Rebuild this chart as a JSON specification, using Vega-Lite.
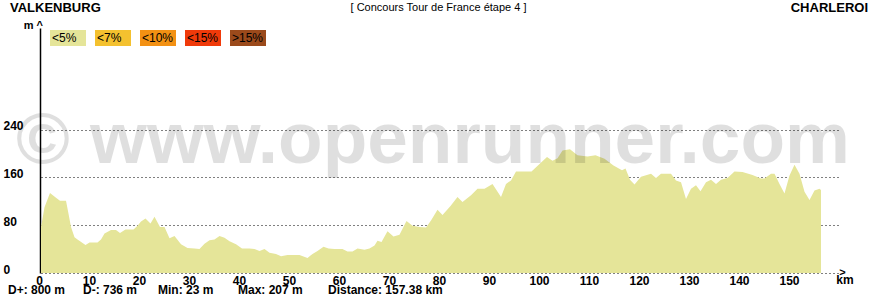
{
  "$schema": "https://vega.github.io/schema/vega-lite/v6.json",
  "width": 800,
  "height": 245,
  "autosize": {"type": "none"},
  "padding": {"left": 41, "top": 28, "right": 39, "bottom": 27},
  "background": "white",
  "config": {
    "view": {"stroke": null},
    "font": "Liberation Sans",
    "text": {"font": "Liberation Sans"}
  },
  "datasets": {
    "profile": [
      {"km": 0.0, "m": 78, "slope": "<5%"},
      {"km": 0.2, "m": 86, "slope": "<5%"},
      {"km": 0.7, "m": 110, "slope": "<5%"},
      {"km": 1.8, "m": 134, "slope": "<5%"},
      {"km": 3.0, "m": 126, "slope": "<5%"},
      {"km": 3.8, "m": 121, "slope": "<5%"},
      {"km": 5.0, "m": 121, "slope": "<5%"},
      {"km": 5.5, "m": 99, "slope": "<5%"},
      {"km": 6.0, "m": 77, "slope": "<5%"},
      {"km": 6.7, "m": 60, "slope": "<5%"},
      {"km": 7.3, "m": 56, "slope": "<5%"},
      {"km": 8.9, "m": 47, "slope": "<5%"},
      {"km": 9.7, "m": 51, "slope": "<5%"},
      {"km": 11.3, "m": 51, "slope": "<5%"},
      {"km": 12.0, "m": 56, "slope": "<5%"},
      {"km": 12.7, "m": 66, "slope": "<5%"},
      {"km": 14.0, "m": 72, "slope": "<5%"},
      {"km": 15.0, "m": 72, "slope": "<5%"},
      {"km": 15.8, "m": 67, "slope": "<5%"},
      {"km": 16.9, "m": 73, "slope": "<5%"},
      {"km": 18.5, "m": 73, "slope": "<5%"},
      {"km": 19.3, "m": 79, "slope": "<5%"},
      {"km": 20.0, "m": 86, "slope": "<5%"},
      {"km": 20.9, "m": 91, "slope": "<5%"},
      {"km": 21.9, "m": 83, "slope": "<5%"},
      {"km": 22.7, "m": 94, "slope": "<5%"},
      {"km": 23.8, "m": 77, "slope": "<5%"},
      {"km": 24.7, "m": 77, "slope": "<5%"},
      {"km": 25.7, "m": 58, "slope": "<5%"},
      {"km": 26.7, "m": 62, "slope": "<5%"},
      {"km": 28.0, "m": 48, "slope": "<5%"},
      {"km": 29.3, "m": 42, "slope": "<5%"},
      {"km": 30.7, "m": 41, "slope": "<5%"},
      {"km": 31.7, "m": 40, "slope": "<5%"},
      {"km": 32.7, "m": 49, "slope": "<5%"},
      {"km": 33.7, "m": 55, "slope": "<5%"},
      {"km": 34.7, "m": 56, "slope": "<5%"},
      {"km": 35.7, "m": 62, "slope": "<5%"},
      {"km": 36.7, "m": 59, "slope": "<5%"},
      {"km": 37.7, "m": 53, "slope": "<5%"},
      {"km": 39.0, "m": 48, "slope": "<5%"},
      {"km": 40.2, "m": 41, "slope": "<5%"},
      {"km": 41.7, "m": 41, "slope": "<5%"},
      {"km": 42.7, "m": 40, "slope": "<5%"},
      {"km": 43.7, "m": 37, "slope": "<5%"},
      {"km": 44.7, "m": 40, "slope": "<5%"},
      {"km": 45.7, "m": 34, "slope": "<5%"},
      {"km": 47.0, "m": 32, "slope": "<5%"},
      {"km": 48.0, "m": 28, "slope": "<5%"},
      {"km": 49.3, "m": 30, "slope": "<5%"},
      {"km": 51.7, "m": 30, "slope": "<5%"},
      {"km": 53.3, "m": 25, "slope": "<5%"},
      {"km": 54.3, "m": 32, "slope": "<5%"},
      {"km": 55.3, "m": 37, "slope": "<5%"},
      {"km": 56.5, "m": 44, "slope": "<5%"},
      {"km": 57.5, "m": 41, "slope": "<5%"},
      {"km": 58.7, "m": 40, "slope": "<5%"},
      {"km": 60.3, "m": 40, "slope": "<5%"},
      {"km": 61.3, "m": 36, "slope": "<5%"},
      {"km": 62.3, "m": 36, "slope": "<5%"},
      {"km": 63.3, "m": 41, "slope": "<5%"},
      {"km": 64.7, "m": 39, "slope": "<5%"},
      {"km": 65.7, "m": 41, "slope": "<5%"},
      {"km": 66.7, "m": 46, "slope": "<5%"},
      {"km": 67.3, "m": 54, "slope": "<5%"},
      {"km": 68.1, "m": 52, "slope": "<5%"},
      {"km": 69.3, "m": 70, "slope": "<5%"},
      {"km": 70.5, "m": 61, "slope": "<5%"},
      {"km": 71.7, "m": 64, "slope": "<5%"},
      {"km": 73.1, "m": 87, "slope": "<5%"},
      {"km": 74.3, "m": 79, "slope": "<5%"},
      {"km": 75.7, "m": 77, "slope": "<5%"},
      {"km": 77.0, "m": 76, "slope": "<5%"},
      {"km": 78.0, "m": 88, "slope": "<5%"},
      {"km": 79.3, "m": 106, "slope": "<5%"},
      {"km": 80.3, "m": 97, "slope": "<5%"},
      {"km": 81.9, "m": 112, "slope": "<5%"},
      {"km": 83.3, "m": 127, "slope": "<5%"},
      {"km": 84.3, "m": 119, "slope": "<5%"},
      {"km": 86.0, "m": 130, "slope": "<5%"},
      {"km": 87.3, "m": 141, "slope": "<5%"},
      {"km": 88.7, "m": 141, "slope": "<5%"},
      {"km": 90.3, "m": 149, "slope": "<5%"},
      {"km": 92.0, "m": 127, "slope": "<5%"},
      {"km": 93.0, "m": 149, "slope": "<5%"},
      {"km": 94.0, "m": 155, "slope": "<5%"},
      {"km": 95.0, "m": 170, "slope": "<5%"},
      {"km": 98.1, "m": 170, "slope": "<5%"},
      {"km": 101.2, "m": 194, "slope": "<5%"},
      {"km": 102.3, "m": 188, "slope": "<5%"},
      {"km": 103.3, "m": 192, "slope": "<5%"},
      {"km": 104.3, "m": 205, "slope": "<5%"},
      {"km": 105.8, "m": 207, "slope": "<5%"},
      {"km": 107.3, "m": 197, "slope": "<5%"},
      {"km": 109.3, "m": 195, "slope": "<5%"},
      {"km": 110.9, "m": 197, "slope": "<5%"},
      {"km": 112.7, "m": 191, "slope": "<5%"},
      {"km": 114.5, "m": 180, "slope": "<5%"},
      {"km": 116.2, "m": 172, "slope": "<5%"},
      {"km": 116.9, "m": 175, "slope": "<5%"},
      {"km": 117.8, "m": 156, "slope": "<5%"},
      {"km": 118.7, "m": 148, "slope": "<5%"},
      {"km": 120.0, "m": 161, "slope": "<5%"},
      {"km": 122.0, "m": 166, "slope": "<5%"},
      {"km": 123.0, "m": 159, "slope": "<5%"},
      {"km": 124.0, "m": 166, "slope": "<5%"},
      {"km": 126.0, "m": 166, "slope": "<5%"},
      {"km": 127.0, "m": 155, "slope": "<5%"},
      {"km": 128.0, "m": 152, "slope": "<5%"},
      {"km": 129.0, "m": 124, "slope": "<5%"},
      {"km": 130.0, "m": 141, "slope": "<5%"},
      {"km": 131.0, "m": 147, "slope": "<5%"},
      {"km": 131.9, "m": 137, "slope": "<5%"},
      {"km": 133.0, "m": 152, "slope": "<5%"},
      {"km": 134.0, "m": 156, "slope": "<5%"},
      {"km": 135.0, "m": 149, "slope": "<5%"},
      {"km": 136.0, "m": 156, "slope": "<5%"},
      {"km": 137.3, "m": 159, "slope": "<5%"},
      {"km": 138.7, "m": 170, "slope": "<5%"},
      {"km": 140.3, "m": 169, "slope": "<5%"},
      {"km": 142.3, "m": 164, "slope": "<5%"},
      {"km": 144.0, "m": 158, "slope": "<5%"},
      {"km": 144.7, "m": 158, "slope": "<5%"},
      {"km": 146.0, "m": 166, "slope": "<5%"},
      {"km": 146.7, "m": 166, "slope": "<5%"},
      {"km": 147.7, "m": 149, "slope": "<5%"},
      {"km": 148.7, "m": 133, "slope": "<5%"},
      {"km": 149.7, "m": 163, "slope": "<5%"},
      {"km": 150.7, "m": 181, "slope": "<5%"},
      {"km": 151.7, "m": 166, "slope": "<5%"},
      {"km": 152.7, "m": 136, "slope": "<5%"},
      {"km": 153.7, "m": 122, "slope": "<5%"},
      {"km": 154.7, "m": 138, "slope": "<5%"},
      {"km": 155.7, "m": 141, "slope": "<5%"},
      {"km": 156.0, "m": 139, "slope": "<5%"}
    ],
    "info": [
      {
        "start": "VALKENBURG",
        "end": "CHARLEROI",
        "title": "[ Concours Tour de France étape 4 ]",
        "watermark": "© www.openrunner.com",
        "yunit": "m ^",
        "xunit": "km",
        "arrow": ">",
        "dplus": "D+: 800 m",
        "dminus": "D-: 736 m",
        "min": "Min: 23 m",
        "max": "Max: 207 m",
        "dist": "Distance: 157.38 km"
      }
    ]
  },
  "layer": [
    {
      "data": {"name": "profile"},
      "mark": {"type": "area", "interpolate": "linear", "opacity": 1},
      "encoding": {
        "x": {
          "field": "km",
          "type": "quantitative",
          "scale": {"domain": [0, 160], "nice": false, "zero": false},
          "axis": {
            "values": [0, 10, 20, 30, 40, 50, 60, 70, 80, 90, 100, 110, 120, 130, 140, 150],
            "grid": false,
            "domain": false,
            "ticks": false,
            "tickSize": 0,
            "labelPadding": 2,
            "labelOffset": -2,
            "labelFont": "Liberation Sans",
            "labelFontSize": 12,
            "labelFontWeight": "bold",
            "labelColor": "black",
            "labelFlush": false,
            "labelOverlap": false,
            "title": null
          }
        },
        "y": {
          "field": "m",
          "type": "quantitative",
          "scale": {"domain": [0, 410], "nice": false},
          "axis": {
            "values": [0, 80, 160, 240],
            "grid": true,
            "gridColor": "black",
            "gridDash": [1, 3],
            "gridWidth": 1,
            "gridOpacity": 1,
            "domain": true,
            "domainColor": "black",
            "domainWidth": 1.5,
            "offset": 1,
            "ticks": false,
            "tickSize": 0,
            "labelAlign": "left",
            "labelBaseline": "alphabetic",
            "labelPadding": 37,
            "labelFont": "Liberation Sans",
            "labelFontSize": 12,
            "labelFontWeight": "bold",
            "labelColor": "black",
            "title": null
          }
        },
        "color": {
          "field": "slope",
          "type": "nominal",
          "scale": {
            "domain": ["<5%", "<7%", "<10%", "<15%", ">15%"],
            "range": ["#e5e599", "#f4c12f", "#f39113", "#f03a0a", "#9b4a1b"]
          },
          "legend": {
            "orient": "none",
            "legendX": 9,
            "legendY": -8,
            "direction": "horizontal",
            "columns": 5,
            "title": null,
            "padding": 0,
            "symbolType": "M-1,-0.444H1V0.444H-1Z",
            "symbolSize": 1296,
            "symbolStrokeWidth": 0,
            "symbolOpacity": 1,
            "labelOffset": -34,
            "labelFont": "Liberation Sans",
            "labelFontSize": 12,
            "labelColor": "black",
            "columnPadding": 9,
            "rowPadding": 0
          }
        }
      }
    },
    {
      "data": {"name": "info"},
      "mark": {"type": "text", "fontSize": 73, "fontWeight": "bold", "color": "black", "opacity": 0.12, "align": "center", "baseline": "alphabetic"},
      "encoding": {"text": {"field": "watermark"}, "x": {"datum": 78.4}, "y": {"datum": 184}}
    },
    {
      "data": {"name": "info"},
      "mark": {"type": "text", "fontSize": 13, "fontWeight": "bold", "color": "black", "align": "left", "baseline": "alphabetic"},
      "encoding": {"text": {"field": "start"}, "x": {"datum": -6.2}, "y": {"datum": 437}}
    },
    {
      "data": {"name": "info"},
      "mark": {"type": "text", "fontSize": 13, "fontWeight": "bold", "color": "black", "align": "right", "baseline": "alphabetic"},
      "encoding": {"text": {"field": "end"}, "x": {"datum": 165.4}, "y": {"datum": 437}}
    },
    {
      "data": {"name": "info"},
      "mark": {"type": "text", "fontSize": 11, "color": "black", "align": "center", "baseline": "alphabetic"},
      "encoding": {"text": {"field": "title"}, "x": {"datum": 79.5}, "y": {"datum": 438}}
    },
    {
      "data": {"name": "info"},
      "mark": {"type": "text", "fontSize": 11, "fontWeight": "bold", "color": "black", "align": "right", "baseline": "alphabetic"},
      "encoding": {"text": {"field": "yunit"}, "x": {"datum": 0.4}, "y": {"datum": 409}}
    },
    {
      "data": {"name": "info"},
      "mark": {"type": "text", "fontSize": 11, "fontWeight": "bold", "color": "black", "align": "center", "baseline": "middle"},
      "encoding": {"text": {"field": "arrow"}, "x": {"datum": 160.3}, "y": {"datum": 0}}
    },
    {
      "data": {"name": "info"},
      "mark": {"type": "text", "fontSize": 12, "fontWeight": "bold", "color": "black", "align": "center", "baseline": "alphabetic"},
      "encoding": {"text": {"field": "xunit"}, "x": {"datum": 160.8}, "y": {"datum": -18}}
    },
    {
      "data": {"name": "info"},
      "mark": {"type": "text", "fontSize": 12, "fontWeight": "bold", "color": "black", "align": "left", "baseline": "alphabetic"},
      "encoding": {"text": {"field": "dplus"}, "x": {"datum": -6.6}, "y": {"datum": -35}}
    },
    {
      "data": {"name": "info"},
      "mark": {"type": "text", "fontSize": 12, "fontWeight": "bold", "color": "black", "align": "left", "baseline": "alphabetic"},
      "encoding": {"text": {"field": "dminus"}, "x": {"datum": 8.4}, "y": {"datum": -35}}
    },
    {
      "data": {"name": "info"},
      "mark": {"type": "text", "fontSize": 12, "fontWeight": "bold", "color": "black", "align": "left", "baseline": "alphabetic"},
      "encoding": {"text": {"field": "min"}, "x": {"datum": 23.4}, "y": {"datum": -35}}
    },
    {
      "data": {"name": "info"},
      "mark": {"type": "text", "fontSize": 12, "fontWeight": "bold", "color": "black", "align": "left", "baseline": "alphabetic"},
      "encoding": {"text": {"field": "max"}, "x": {"datum": 39.4}, "y": {"datum": -35}}
    },
    {
      "data": {"name": "info"},
      "mark": {"type": "text", "fontSize": 12, "fontWeight": "bold", "color": "black", "align": "left", "baseline": "alphabetic"},
      "encoding": {"text": {"field": "dist"}, "x": {"datum": 57.4}, "y": {"datum": -35}}
    }
  ]
}
